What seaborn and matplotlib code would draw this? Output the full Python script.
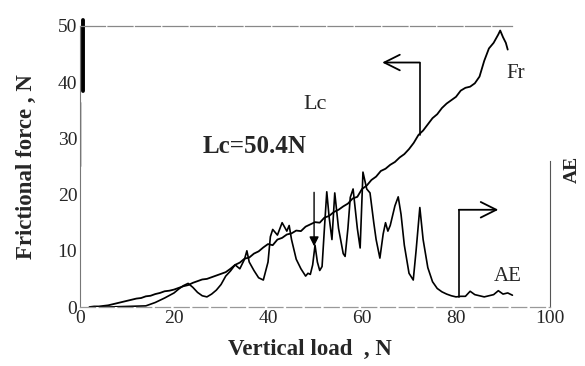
import numpy as np
import pandas as pd
import seaborn as sns
import matplotlib.pyplot as plt

# Frictional force curve (Fr), N
fr_load = [2, 3, 4, 5, 6, 7, 8, 9, 10, 11, 12, 13, 14, 15, 16, 17, 18, 19, 20,
           21, 22, 23, 24, 25, 26, 27, 28, 29, 30, 31, 32, 33, 34, 35, 36, 37, 38,
           39, 40, 41, 42, 43, 44, 45, 46, 47, 48, 49, 50, 51, 52, 53, 54, 55, 56,
           57, 58, 59, 60, 61, 62, 63, 64, 65, 66, 67, 68, 69, 70, 71, 72, 73, 74,
           75, 76, 77, 78, 79, 80, 81, 82, 83, 84, 85, 86, 87, 88, 89, 89.4, 90,
           90.6, 91]
fr_force = [0.0, 0.1, 0.1, 0.2, 0.3, 0.5, 0.7, 0.9, 1.1, 1.3, 1.5, 1.6, 1.9, 2.0, 2.3,
            2.5, 2.8, 2.9, 3.1, 3.4, 3.7, 3.9, 4.3, 4.6, 4.9, 5.0, 5.3, 5.6, 5.9, 6.2,
            6.8, 7.5, 7.9, 8.6, 8.8, 9.5, 9.9, 10.6, 11.2, 11.0, 12.0, 12.3, 12.9, 13.1,
            13.6, 13.5, 14.3, 14.7, 15.1, 15.0, 15.9, 16.2, 16.9, 17.3, 17.9, 18.4,
            19.3, 19.6, 21.0, 21.6, 22.6, 23.2, 24.2, 24.6, 25.3, 25.8, 26.6, 27.2,
            28.1, 29.2, 30.6, 31.4, 32.5, 33.6, 34.3, 35.4, 36.2, 36.8, 37.4, 38.5,
            39.0, 39.2, 39.8, 41.0, 43.8, 46.0, 47.0, 48.5, 49.2, 48.0, 47.0, 45.8]

# Acoustic emission curve (AE)
ae_load = [3, 6, 10, 14, 16, 18, 20, 21, 22, 23, 24, 25, 26, 27, 28, 29, 30, 31, 32,
           33, 34, 35, 35.5, 36, 37, 38, 39, 40, 40.5, 41, 42, 43, 44, 44.5, 45, 46,
           47, 48, 48.5, 49, 49.5, 50, 50.5, 51, 51.5, 52, 52.5, 53, 53.6, 54.2, 55,
           56, 56.4, 57, 57.5, 58.1, 59, 59.6, 60.2, 61, 61.7, 62.5, 63, 63.8, 64.5,
           65, 65.5, 66, 67, 67.7, 68.3, 69, 70, 70.9, 71.5, 72.3, 73, 74, 75, 76,
           77, 78, 79, 80, 81, 82, 83, 84, 85, 86, 87, 88, 89, 90, 91, 92]
ae_level = [0.0, 0.0, 0.1, 0.2, 0.8, 1.6, 2.5, 3.2, 3.8, 4.2, 3.5, 2.6, 2.0, 1.8, 2.3,
            3.0, 4.0, 5.5, 6.4, 7.5, 6.8, 8.5, 10.0, 8.0, 6.5, 5.2, 4.8, 8.0, 12.5,
            13.8, 12.8, 15.0, 13.5, 14.5, 12.0, 8.5, 6.8, 5.5, 6.0, 5.8, 7.5, 11.0,
            8.0, 6.5, 7.2, 14.0, 20.5, 16.0, 12.0, 20.3, 14.0, 9.5, 9.0, 14.0, 19.5,
            21.0, 14.0, 10.5, 24.0, 21.0, 20.3, 15.0, 12.0, 8.7, 13.0, 15.0, 13.5,
            14.5, 18.0, 19.6, 16.5, 11.0, 6.0, 4.8, 10.0, 17.7, 12.0, 7.0, 4.5, 3.3,
            2.7, 2.3, 2.0, 1.8, 1.9, 1.9, 2.8, 2.2, 2.0, 1.8, 2.0, 2.2, 2.9, 2.3, 2.5,
            2.1]

x_ticks = [0, 20, 40, 60, 80, 100]
y_ticks = [0, 10, 20, 30, 40, 50]

# annotation anchors (data units)
lc_value = 50.4
fr_arrow_x, fr_arrow_y0, fr_arrow_y1, fr_arrow_end = 72.3, 30.6, 43.5, 64.3
ae_arrow_x, ae_arrow_y0, ae_arrow_y1, ae_arrow_end = 80.6, 1.8, 17.3, 89.0
lc_arrow_x, lc_arrow_top, lc_arrow_tip = 49.8, 20.4, 10.8

fr_df = pd.DataFrame({"load": fr_load, "force": fr_force})
ae_df = pd.DataFrame({"load": ae_load, "level": ae_level})

sns.set_style("white")
plt.rcParams["font.family"] = ["Liberation Serif", "DejaVu Serif"]

fig = plt.figure(figsize=(5.85, 3.66), dpi=100)
ax = fig.add_axes([0.1368, 0.1612, 0.8034, 0.7678])

sns.lineplot(data=fr_df, x="load", y="force", ax=ax, color="black", lw=1.3,
             sort=False, estimator=None)
sns.lineplot(data=ae_df, x="load", y="level", ax=ax, color="black", lw=1.2,
             sort=False, estimator=None)

ax.set_xlim(0, 100)
ax.set_ylim(0, 50)
ax.set_xticks(x_ticks)
ax.set_yticks(y_ticks)
ax.tick_params(length=0, labelsize=14, pad=2)
ax.set_xlabel("Vertical load  , N", fontsize=16.5, fontweight="bold")
ax.set_ylabel("Frictional force , N", fontsize=16.5, fontweight="bold")
ax.xaxis.set_label_coords(0.49, -0.113)
ax.yaxis.set_label_coords(-0.092, 0.5)

# scanned-looking frame
ax.spines["left"].set_color("#777777")
ax.spines["left"].set_linewidth(0.8)
ax.spines["bottom"].set_color("#999999")
ax.spines["bottom"].set_linestyle((0, (12, 3)))
ax.spines["bottom"].set_linewidth(0.9)
ax.spines["top"].set_color("#888888")
ax.spines["top"].set_linestyle((0, (20, 2)))
ax.spines["top"].set_linewidth(0.9)
ax.spines["top"].set_bounds(0, 92)
ax.spines["right"].set_color("#555555")
ax.spines["right"].set_linewidth(0.8)
ax.spines["right"].set_bounds(0, 26)
ax.axvline(0.6, ymin=0.77, ymax=1.02, color="black", lw=2.8, clip_on=False)
ax.axvline(0, ymin=0.5, ymax=0.73, color="black", lw=1.0)

# Fr arrow (to the left axis)
ax.plot([fr_arrow_x, fr_arrow_x], [fr_arrow_y0, fr_arrow_y1], color="black", lw=1.2)
ax.annotate("", xy=(fr_arrow_end, fr_arrow_y1), xytext=(fr_arrow_x, fr_arrow_y1),
            arrowprops=dict(arrowstyle="->", lw=1.3, color="black",
                            mutation_scale=28, shrinkA=0, shrinkB=0))
# AE arrow (to the right axis)
ax.plot([ae_arrow_x, ae_arrow_x], [ae_arrow_y0, ae_arrow_y1], color="black", lw=1.2)
ax.annotate("", xy=(ae_arrow_end, ae_arrow_y1), xytext=(ae_arrow_x, ae_arrow_y1),
            arrowprops=dict(arrowstyle="->", lw=1.3, color="black",
                            mutation_scale=28, shrinkA=0, shrinkB=0))
# critical load marker
ax.annotate("", xy=(lc_arrow_x, lc_arrow_tip), xytext=(lc_arrow_x, lc_arrow_top),
            arrowprops=dict(arrowstyle="-|>", lw=1.0, color="black",
                            mutation_scale=14, shrinkA=0, shrinkB=0))

ax.text(90.8, 41.5, "Fr", fontsize=15, va="center", ha="left")
ax.text(88.0, 5.5, "AE", fontsize=15, va="center", ha="left")
ax.text(47.5, 36.0, "Lc", fontsize=16, va="center", ha="left")
ax.text(26.0, 28.6, f"Lc={lc_value}N", fontsize=18, fontweight="bold",
        va="center", ha="left")
ax.text(1.03, 0.49, "AE", transform=ax.transAxes, rotation=90, fontsize=14,
        fontweight="bold", va="center", ha="left")

fig.savefig("out.png", dpi=100)
